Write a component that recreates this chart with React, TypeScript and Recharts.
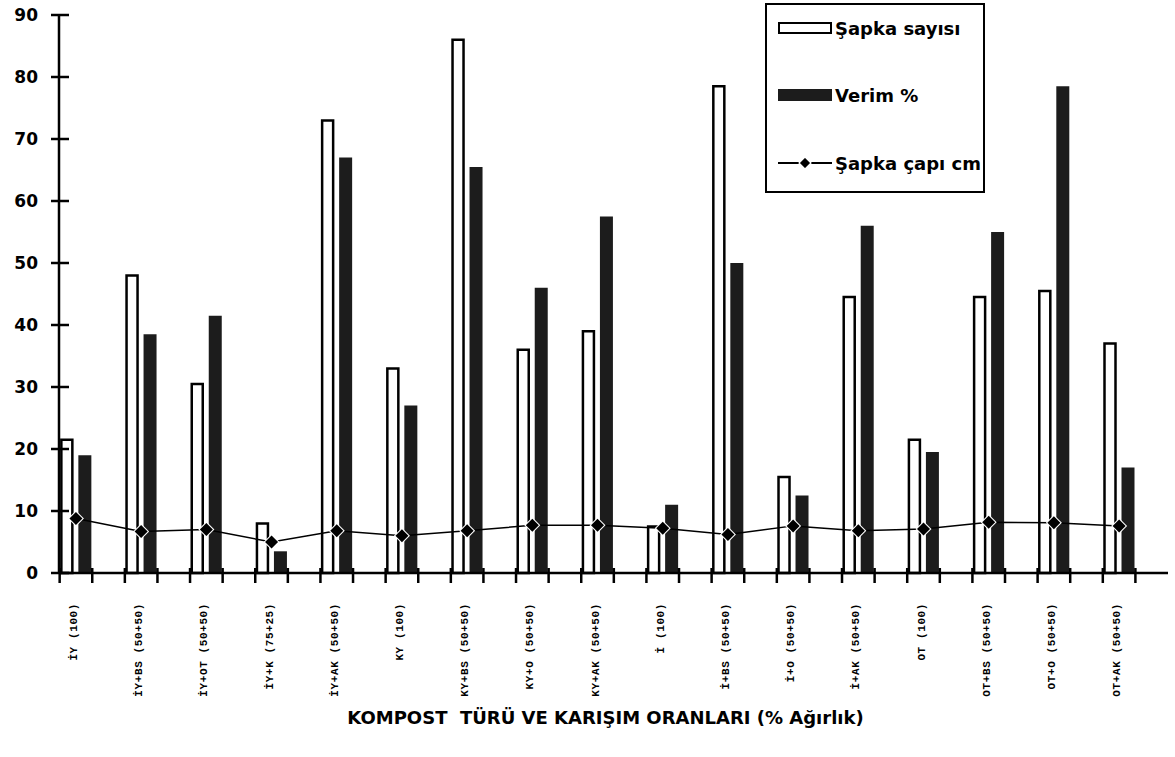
import React from "react";
import { ComposedChart, Bar, Line, XAxis, YAxis, Legend, Label } from "recharts";

const categories = [
  "İY (100)",
  "İY+BS (50+50)",
  "İY+OT (50+50)",
  "İY+K (75+25)",
  "İY+AK (50+50)",
  "KY (100)",
  "KY+BS (50+50)",
  "KY+O (50+50)",
  "KY+AK (50+50)",
  "İ (100)",
  "İ+BS (50+50)",
  "İ+O (50+50)",
  "İ+AK (50+50)",
  "OT (100)",
  "OT+BS (50+50)",
  "OT+O (50+50)",
  "OT+AK (50+50)",
];
const sapkaSayisi = [21.5, 48, 30.5, 8, 73, 33, 86, 36, 39, 7.5, 78.5, 15.5, 44.5, 21.5, 44.5, 45.5, 37];
const verim = [19, 38.5, 41.5, 3.5, 67, 27, 65.5, 46, 57.5, 11, 50, 12.5, 56, 19.5, 55, 78.5, 17];
const sapkaCapi = [8.8, 6.7, 7.0, 5.0, 6.8, 6.0, 6.8, 7.7, 7.7, 7.2, 6.2, 7.6, 6.8, 7.1, 8.2, 8.1, 7.6];
const yTicks = [0, 10, 20, 30, 40, 50, 60, 70, 80, 90];

const data = categories.map((name, i) => ({
  idx: i,
  name,
  sayi: sapkaSayisi[i],
  verim: verim[i],
  cap: sapkaCapi[i],
}));

const W = 1175;
const H = 757;
const margin = { top: 15, right: 7, left: 0, bottom: 0 };
const yWidth = 59;
const xDomain: [number, number] = [-0.26, 16.75];
const unit = (W - margin.left - margin.right - yWidth) / (xDomain[1] - xDomain[0]);
const BOLD = "'DejaVu Sans', sans-serif";

function XTick(props: any) {
  const { x, y, payload } = props;
  const q = unit / 4;
  const tx = x - 2;
  const ty = y + 30;
  return (
    <g>
      <line x1={x - q} x2={x - q} y1={y - 5} y2={y + 10} stroke="#000" strokeWidth={2.5} />
      <line x1={x + q} x2={x + q} y1={y - 5} y2={y + 10} stroke="#000" strokeWidth={2.5} />
      <text
        x={tx}
        y={ty}
        transform={`rotate(-90 ${tx} ${ty})`}
        textAnchor="end"
        dominantBaseline="central"
        fontFamily="'Liberation Mono', monospace"
        fontWeight="bold"
        fontSize={11}
        letterSpacing={0.6}
        fill="#000"
      >
        {categories[payload.value]}
      </text>
    </g>
  );
}

function YTick(props: any) {
  const { x, y, payload } = props;
  return (
    <g>
      <line x1={x - 8} x2={x + 10} y1={y} y2={y} stroke="#000" strokeWidth={2.5} />
      <text
        x={x - 21}
        y={y}
        textAnchor="end"
        dominantBaseline="central"
        fontFamily={BOLD}
        fontWeight="bold"
        fontSize={17}
        fill="#000"
      >
        {payload.value}
      </text>
    </g>
  );
}

function Diamond(props: any) {
  const { cx, cy } = props;
  if (cx == null || cy == null) return null;
  const s = 6.5;
  return (
    <g>
      <polygon
        points={`${cx},${cy - s - 1.5} ${cx + s + 1.5},${cy} ${cx},${cy + s + 1.5} ${cx - s - 1.5},${cy}`}
        fill="#fff"
      />
      <polygon points={`${cx},${cy - s} ${cx + s},${cy} ${cx},${cy + s} ${cx - s},${cy}`} fill="#000" />
    </g>
  );
}

function LegendBox() {
  const row = (top: number, swatch: React.ReactNode, text: string) => (
    <div style={{ position: "absolute", left: 11, top, height: 24, display: "flex", alignItems: "center" }}>
      <div style={{ width: 54, display: "flex", alignItems: "center" }}>{swatch}</div>
      <span style={{ marginLeft: 3, whiteSpace: "nowrap" }}>{text}</span>
    </div>
  );
  return (
    <div
      style={{
        position: "relative",
        width: 220,
        height: 190,
        border: "2px solid #000",
        boxSizing: "border-box",
        background: "#fff",
        fontFamily: BOLD,
        fontWeight: "bold",
        fontSize: 18,
        color: "#000",
      }}
    >
      {row(11, <div style={{ width: 50, height: 8, border: "2px solid #000", background: "#fff" }} />, "Şapka sayısı")}
      {row(78, <div style={{ width: 54, height: 12, background: "#1c1c1c" }} />, "Verim %")}
      {row(146,
        <svg width={54} height={14}>
          <line x1={0} x2={54} y1={7} y2={7} stroke="#000" strokeWidth={2} />
          <polygon points="27,1 33,7 27,13 21,7" fill="#000" stroke="#fff" strokeWidth={1.2} />
        </svg>,
        "Şapka çapı cm"
      )}
    </div>
  );
}

export default function App() {
  return (
    <div style={{ position: "absolute", left: 0, top: 0, background: "#fff" }}>
      <ComposedChart width={W} height={H} data={data} margin={margin} barGap={6}>
        <XAxis
          dataKey="idx"
          type="number"
          domain={xDomain}
          allowDataOverflow
          ticks={categories.map((_, i) => i)}
          interval={0}
          height={H - 573 - margin.bottom}
          tickSize={0}
          tickMargin={0}
          tickLine={false}
          tick={<XTick />}
          axisLine={{ stroke: "#000", strokeWidth: 2.5 }}
        >
          <Label
            content={(p: any) => {
              const vb = p.viewBox || {};
              return (
                <text
                  x={vb.x + vb.width / 2 - 8}
                  y={vb.y + 151}
                  textAnchor="middle"
                  fontFamily={BOLD}
                  fontWeight="bold"
                  fontSize={18}
                  fill="#000"
                >
                  {"KOMPOST\u00A0 TÜRÜ VE KARIŞIM ORANLARI (% Ağırlık)"}
                </text>
              );
            }}
          />
        </XAxis>
        <YAxis
          type="number"
          domain={[0, 90]}
          ticks={yTicks}
          interval={0}
          width={yWidth}
          tickSize={0}
          tickMargin={0}
          tickLine={false}
          tick={<YTick />}
          axisLine={{ stroke: "#000", strokeWidth: 2.5 }}
        />
        <Legend
          layout="vertical"
          align="center"
          verticalAlign="middle"
          content={() => <LegendBox />}
          wrapperStyle={{ left: 765, top: 3, width: 220, height: 190 }}
        />
        <Bar
          dataKey="sayi"
          name="Şapka sayısı"
          barSize={11}
          fill="#fff"
          stroke="#000"
          strokeWidth={2.5}
          isAnimationActive={false}
        />
        <Bar dataKey="verim" name="Verim %" barSize={13} fill="#1c1c1c" isAnimationActive={false} />
        <Line
          dataKey="cap"
          name="Şapka çapı cm"
          type="linear"
          stroke="#000"
          strokeWidth={1.5}
          dot={<Diamond />}
          activeDot={false}
          isAnimationActive={false}
        />
      </ComposedChart>
    </div>
  );
}
